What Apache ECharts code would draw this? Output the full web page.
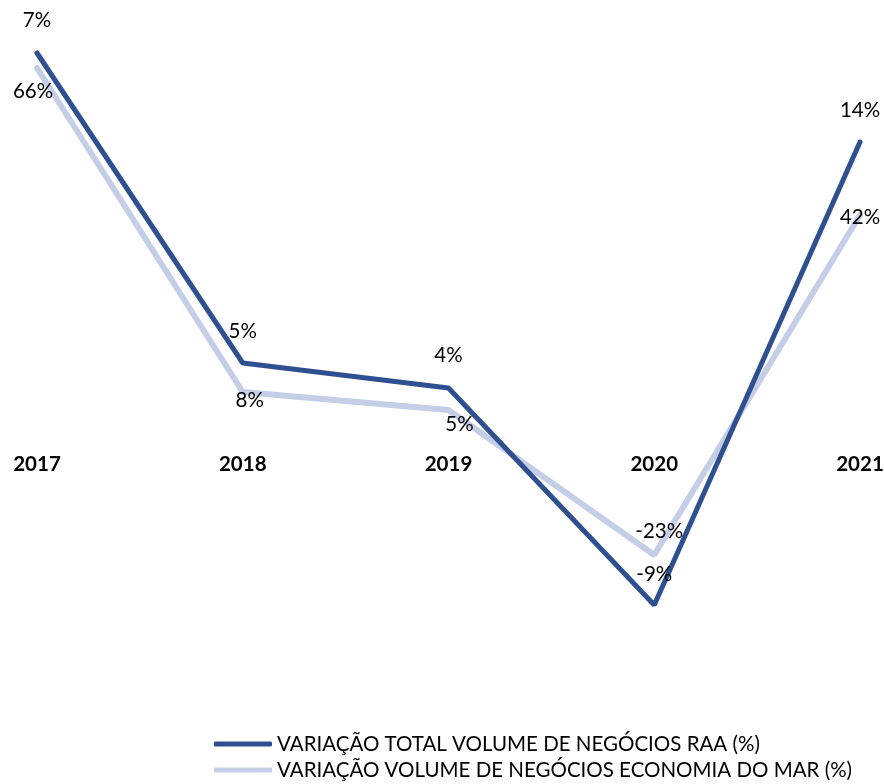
<!DOCTYPE html>
<html>
<head>
<meta charset="utf-8">
<script src="https://cdn.jsdelivr.net/npm/echarts@6/dist/echarts.min.js"></script>
<style>
  html, body { margin: 0; padding: 0; background: #fff; }
  #chart { width: 884px; height: 784px; }
</style>
</head>
<body>
<div id="chart"></div>
<script>
// categorias
const years = ["2017", "2018", "2019", "2020", "2021"];
// posição das linhas (escala livre)
const raaLevel = [392, 82, 57, -160, 303];
const marLevel = [377, 53, 35, -110, 230];
// rótulos mostrados
const raaLabels = ["7%", "5%", "4%", "-9%", "14%"];
const marLabels = ["66%", "8%", "5%", "-23%", "42%"];

const darkBlue = "#2F5090";
const lightBlue = "#C5CEE7";
const font = "Lato, 'Open Sans', sans-serif";

// deslocamento dos rótulos (como no original)
const raaOffsets = [[0, -33], [0, -32], [0, -33], [0, -31], [0, -32]];
const marOffsets = [[-4, 23], [7, 8], [11, 14], [5, -24], [0, 2]];

function points(values, labels, offsets) {
    return values.map((v, i) => ({
        value: v,
        label: { offset: offsets[i], formatter: labels[i] },
    }));
}

const chart = echarts.init(document.getElementById("chart"));
chart.setOption({
    animation: false,
    // eixo das categorias fica no zero; as linhas passam por baixo (clip: false)
    grid: { left: 37, right: 24, top: 40, height: 405, outerBoundsMode: "none", containLabel: false },
    legend: {
        orient: "vertical",
        left: 214,
        top: 732,
        height: 60,
        padding: 0,
        itemWidth: 58,
        itemHeight: 5,
        itemGap: 2,
        icon: "roundRect",
        textStyle: { fontFamily: font, fontSize: 20.5, color: "#000", lineHeight: 24 },
        data: [
            { name: "VARIAÇÃO TOTAL VOLUME DE NEGÓCIOS RAA (%)", itemStyle: { color: darkBlue } },
            { name: "VARIAÇÃO VOLUME DE NEGÓCIOS ECONOMIA DO MAR (%)", itemStyle: { color: lightBlue } },
        ],
    },
    xAxis: {
        type: "category",
        data: years,
        boundaryGap: false,
        axisLine: { show: false },
        axisTick: { show: false },
        axisLabel: { fontFamily: font, fontSize: 20.5, fontWeight: "bold", color: "#000", margin: 9 },
    },
    yAxis: {
        type: "value",
        min: 0,
        max: 405,
        show: false,
        splitLine: { show: false },
    },
    series: [
        {
            name: "VARIAÇÃO VOLUME DE NEGÓCIOS ECONOMIA DO MAR (%)",
            type: "line",
            z: 2,
            clip: false,
            data: points(marLevel, marLabels, marOffsets),
            symbol: "circle",
            symbolSize: 1,
            itemStyle: { color: lightBlue },
            lineStyle: { color: lightBlue, width: 6, cap: "round" },
            label: {
                show: true,
                position: "inside",
                fontFamily: font,
                fontSize: 20.5,
                color: "#000",
            },
        },
        {
            name: "VARIAÇÃO TOTAL VOLUME DE NEGÓCIOS RAA (%)",
            type: "line",
            z: 3,
            clip: false,
            data: points(raaLevel, raaLabels, raaOffsets),
            symbol: "circle",
            symbolSize: 1,
            itemStyle: { color: darkBlue },
            lineStyle: { color: darkBlue, width: 5, cap: "round" },
            label: {
                show: true,
                position: "inside",
                fontFamily: font,
                fontSize: 20.5,
                color: "#000",
            },
        },
    ],
});
</script>
</body>
</html>
